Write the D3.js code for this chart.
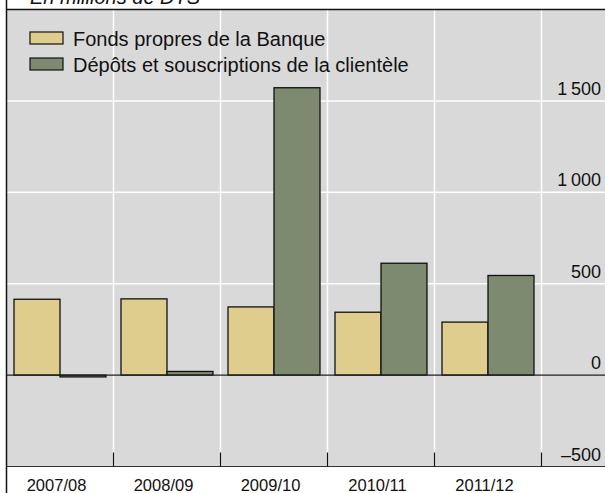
<!DOCTYPE html>
<html>
<head>
<meta charset="utf-8">
<script src="https://cdn.jsdelivr.net/npm/d3@7"></script>
<style>
  body { margin: 0; background: #fff; }
  svg { display: block; font-family: "Liberation Sans", Arial, sans-serif; }
</style>
</head>
<body>
<div id="wrapper"></div>
<script>
const years = ["2007/08", "2008/09", "2009/10", "2010/11", "2011/12"];
const series = ["Fonds propres de la Banque", "Dépôts et souscriptions de la clientèle"];
const fondsPropres = [415, 417, 373, 344, 290];
const depots = [-10, 20, 1572, 612, 545];
const yTicks = [-500, 0, 500, 1000, 1500];
const yTickLabels = ["–500", "0", "500", "1\u2009000", "1\u2009500"];
const colors = ["#dfcd8e", "#7d8a70"];

function drawBarChart() {
  const dimensions = {
    width: 605,
    height: 493,
    plotLeft: 6.5,
    plotTop: 9.5,
    plotBottom: 466.5,
    bandsRight: 541.5,
  };

  const svg = d3.select("#wrapper")
    .append("svg")
    .attr("width", dimensions.width)
    .attr("height", dimensions.height);

  const yScale = d3.scaleLinear()
    .domain([-500, 2000])
    .range([dimensions.plotBottom, dimensions.plotTop]);

  const xScale = d3.scaleBand()
    .domain(years)
    .range([dimensions.plotLeft, dimensions.bandsRight]);

  const xSub = d3.scaleBand()
    .domain(series)
    .range([0, xScale.bandwidth()])
    .paddingOuter(0.163);

  // plot background
  svg.append("rect")
    .attr("x", dimensions.plotLeft)
    .attr("y", dimensions.plotTop)
    .attr("width", dimensions.width - dimensions.plotLeft)
    .attr("height", dimensions.plotBottom - dimensions.plotTop)
    .attr("fill", "#d9d9d9");

  // gridlines
  svg.append("g")
    .selectAll("line")
    .data(yTicks.filter(d => d > 0))
    .join("line")
    .attr("x1", dimensions.plotLeft)
    .attr("x2", dimensions.width)
    .attr("y1", d => yScale(d))
    .attr("y2", d => yScale(d))
    .attr("stroke", "#fff")
    .attr("stroke-width", 1.5);

  const boundaries = years.slice(1).map(d => xScale(d)).concat([dimensions.bandsRight]);

  svg.append("g")
    .selectAll("line")
    .data(boundaries)
    .join("line")
    .attr("x1", d => d)
    .attr("x2", d => d)
    .attr("y1", dimensions.plotTop)
    .attr("y2", dimensions.plotBottom)
    .attr("stroke", "#fff")
    .attr("stroke-width", 1.5);

  // bars
  const rows = years.map((year, i) => ({ year, values: [fondsPropres[i], depots[i]] }));

  svg.append("g")
    .selectAll("g")
    .data(rows)
    .join("g")
    .attr("transform", d => `translate(${xScale(d.year)},0)`)
    .selectAll("rect")
    .data(d => d.values.map((v, j) => ({ key: series[j], value: v, color: colors[j] })))
    .join("rect")
    .attr("x", d => xSub(d.key))
    .attr("width", xSub.bandwidth())
    .attr("y", d => yScale(Math.max(0, d.value)))
    .attr("height", d => Math.abs(yScale(d.value) - yScale(0)))
    .attr("fill", d => d.color)
    .attr("stroke", "#111")
    .attr("stroke-width", 1.3);

  // zero line
  svg.append("line")
    .attr("x1", dimensions.plotLeft)
    .attr("x2", dimensions.width)
    .attr("y1", yScale(0))
    .attr("y2", yScale(0))
    .attr("stroke", "#222")
    .attr("stroke-width", 1.3);

  // bottom edge and ticks
  svg.append("line")
    .attr("x1", dimensions.plotLeft)
    .attr("x2", dimensions.width)
    .attr("y1", dimensions.plotBottom)
    .attr("y2", dimensions.plotBottom)
    .attr("stroke", "#333")
    .attr("stroke-width", 1);

  svg.append("g")
    .selectAll("line")
    .data(boundaries)
    .join("line")
    .attr("x1", d => d)
    .attr("x2", d => d)
    .attr("y1", dimensions.plotBottom - 14)
    .attr("y2", dimensions.plotBottom)
    .attr("stroke", "#111")
    .attr("stroke-width", 1.2);

  // frame: top and left
  svg.append("line")
    .attr("x1", dimensions.plotLeft)
    .attr("x2", dimensions.width)
    .attr("y1", dimensions.plotTop)
    .attr("y2", dimensions.plotTop)
    .attr("stroke", "#111")
    .attr("stroke-width", 1.5);

  svg.append("line")
    .attr("x1", dimensions.plotLeft)
    .attr("x2", dimensions.plotLeft)
    .attr("y1", 0)
    .attr("y2", dimensions.height)
    .attr("stroke", "#111")
    .attr("stroke-width", 1.5);

  // y tick labels
  svg.append("g")
    .selectAll("text")
    .data(yTicks)
    .join("text")
    .attr("x", 601)
    .attr("y", d => Math.min(yScale(d), dimensions.plotBottom) - 6)
    .attr("text-anchor", "end")
    .attr("font-size", 18)
    .attr("fill", "#111")
    .text((d, i) => yTickLabels[i]);

  // x labels
  svg.append("g")
    .selectAll("text")
    .data(years)
    .join("text")
    .attr("x", d => xScale(d) + xScale.bandwidth() / 2 - 3.5)
    .attr("y", 491)
    .attr("text-anchor", "middle")
    .attr("font-size", 16.5)
    .attr("fill", "#111")
    .text(d => d);

  // title (cut off at top)
  svg.append("text")
    .attr("x", 30)
    .attr("y", 4)
    .attr("font-size", 20)
    .attr("font-style", "italic")
    .attr("fill", "#111")
    .text("En millions de DTS");

  // legend
  const legend = svg.append("g")
    .selectAll("g")
    .data(series)
    .join("g")
    .attr("transform", (d, i) => `translate(30, ${32 + i * 26})`);

  legend.append("rect")
    .attr("width", 33)
    .attr("height", 12)
    .attr("fill", (d, i) => colors[i])
    .attr("stroke", "#111")
    .attr("stroke-width", 1.2);

  legend.append("text")
    .attr("x", 43)
    .attr("y", 13.5)
    .attr("font-size", 20)
    .attr("fill", "#111")
    .text(d => d);
}

drawBarChart();
</script>
</body>
</html>
